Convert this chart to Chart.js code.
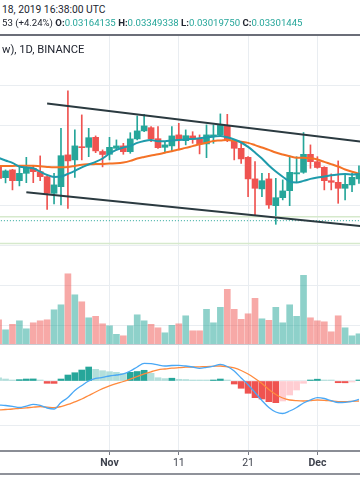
<!DOCTYPE html>
<html><head><meta charset="utf-8">
<script src="https://cdn.jsdelivr.net/npm/chart.js@4.4.1/dist/chart.umd.min.js"></script>
<style>
html,body{margin:0;padding:0;background:#fff;width:360px;height:504px;overflow:hidden;font-family:Roboto,"Open Sans",sans-serif;}
#wrap{position:relative;width:360px;height:504px;overflow:hidden;}
.t{position:absolute;left:2px;white-space:nowrap;font-size:10.3px;line-height:12px;color:#222631;z-index:3;}
.v{color:#26a69a}
.k{font-weight:bold}
canvas{position:absolute;left:0;}
</style></head><body><div id="wrap">
<div class="t" style="top:4px">18, 2019 16:38:00 UTC</div>
<div class="t" style="top:17px;font-size:9.6px">53 (+4.24%) <span class="k">O:</span><span class="v">0.03164135</span> <span class="k">H:</span><span class="v">0.03349338</span> <span class="k">L:</span><span class="v">0.03019750</span> <span class="k">C:</span><span class="v">0.03301445</span></div>
<div style="position:absolute;left:0;top:34px;width:360px;height:2px;background:#6b6e78"></div>
<canvas id="c1" width="360" height="309" style="top:36px"></canvas>
<canvas id="c2" width="360" height="128" style="top:345px"></canvas>
<div style="position:absolute;left:0;top:344px;width:360px;height:1px;background:#c9ccd3;z-index:2"></div>
<div style="position:absolute;left:0;top:473px;width:360px;height:2px;background:#8f929a"></div>
<div class="t" style="top:44px;font-size:11.2px">w), 1D, BINANCE</div>
</div>
<script>
// ---- data (days counted from Nov 1 = 0) ----
const days = [-16,-15,-14,-13,-12,-11,-10,-9,-8,-7,-6,-5,-4,-3,-2,-1,0,1,2,3,4,5,6,7,8,9,10,11,12,13,14,15,16,17,18,19,20,21,22,23,24,25,26,27,28,29,30,31,32,33,34,35,36];
const tickDays = [0,10,20,30];
const tickLabels = ['Nov','11','21','Dec'];
const tickBold = [true,false,false,true];

const openP = [0.03192,0.03137,0.03176,0.03122,0.03159,0.03184,0.03167,0.03142,0.03059,0.03092,0.03251,0.03226,0.03292,0.03289,0.03339,0.03268,
0.03254,0.03284,0.03296,0.03267,0.03331,0.03371,0.03387,0.03332,0.03289,0.03296,0.03351,
0.03322,0.03346,0.03329,0.03306,0.03342,0.03351,0.03396,0.03322,0.03284,0.03239,
0.03131,0.03081,0.03131,0.02997,0.03037,0.03072,0.03156,0.03164,0.03254,0.03217,
0.03189,0.03122,0.03114,0.03084,0.03101,0.03131];
const highP = [0.03200,0.03176,0.03179,0.03192,0.03239,0.03196,0.03246,0.03151,0.03159,0.03384,0.03571,0.03376,0.03451,0.03384,0.03346,0.03276,
0.03339,0.03326,0.03309,0.03362,0.03446,0.03454,0.03392,0.03392,0.03314,0.03392,0.03409,
0.03376,0.03367,0.03351,0.03401,0.03401,0.03456,0.03454,0.03329,0.03309,0.03242,
0.03217,0.03159,0.03159,0.03134,0.03126,0.03246,0.03242,0.03363,0.03301,0.03242,
0.03192,0.03156,0.03221,0.03151,0.03159,0.03196];
const lowP = [0.03126,0.03111,0.03076,0.03096,0.03112,0.03112,0.03122,0.02979,0.03006,0.03001,0.02984,0.03139,0.03226,0.03242,0.03262,0.03191,
0.03226,0.03276,0.03254,0.03259,0.03326,0.03367,0.03317,0.03284,0.03262,0.03267,0.03276,
0.03301,0.03309,0.03256,0.03237,0.03309,0.03346,0.03317,0.03226,0.03209,0.03042,
0.02942,0.03042,0.02984,0.02904,0.03026,0.02997,0.03114,0.03159,0.03184,0.03184,
0.03076,0.03076,0.03009,0.03026,0.03067,0.03109];
const closeP = [0.03134,0.03171,0.03122,0.03159,0.03184,0.03167,0.03142,0.03059,0.03101,0.03247,0.03221,0.03296,0.03287,0.03337,0.03271,0.03253,
0.03289,0.03296,0.03267,0.03331,0.03371,0.03396,0.03331,0.03287,0.03301,0.03346,0.03326,
0.03347,0.03329,0.03306,0.03351,0.03351,0.03401,0.03322,0.03284,0.03231,0.03131,
0.03084,0.03122,0.03001,0.03037,0.03071,0.03164,0.03162,0.03254,0.03217,0.03188,
0.03122,0.03114,0.03084,0.03104,0.03139,0.03159];
const emaFast = [0.03236,0.03223,0.03211,0.03193,0.03188,0.03184,0.03167,0.03151,0.03141,0.03143,0.03156,0.03171,0.03189,0.03203,0.03216,0.03233,
0.03258,0.03276,0.03288,0.03296,0.03311,0.03321,0.03326,0.03319,0.03319,0.03323,0.03326,
0.03328,0.03331,0.03334,0.03338,0.03342,0.03346,0.03339,0.03328,0.03313,0.03291,
0.03263,0.03233,0.03198,0.03168,0.03142,0.03118,0.03113,0.03121,0.03131,0.03138,
0.03143,0.03149,0.03153,0.03156,0.03153,0.03156];
const emaSlow = [0.03196,0.03196,0.03196,0.03197,0.03197,0.03197,0.03194,0.03191,0.03189,0.03189,0.03190,0.03196,0.03202,0.03204,0.03205,0.03206,
0.03208,0.03209,0.03213,0.03221,0.03233,0.03241,0.03248,0.03254,0.03262,0.03269,0.03278,
0.03286,0.03295,0.03304,0.03312,0.03321,0.03323,0.03326,0.03322,0.03317,0.03311,
0.03300,0.03288,0.03276,0.03263,0.03253,0.03244,0.03237,0.03237,0.03234,0.03228,
0.03216,0.03205,0.03193,0.03178,0.03167,0.03157];
const volume = [49,29,40,47,31,43,47,49,69,79,141,99,85,53,56,41,
37,20,17,37,59,47,40,33,23,38,41,
57,27,27,70,43,74,110,70,50,61,
92,51,48,74,43,79,56,138,53,47,
45,25,57,33,17,21];
const macdLine = [-0.000533,-0.000544,-0.000562,-0.000589,-0.000556,-0.000518,-0.000544,-0.0006,-0.000622,-0.000478,-0.000367,-0.000211,-0.0001,0,0.000056,0.00008,
0.000111,0.000133,0.000156,0.000222,0.000311,0.000393,0.000384,0.000356,0.000333,0.000344,0.000349,
0.000333,0.000311,0.000282,0.000304,0.000333,0.000371,0.000322,0.000222,0.000067,-0.000082,
-0.000256,-0.000433,-0.000589,-0.000689,-0.000722,-0.000667,-0.000589,-0.000489,-0.000422,-0.000371,
-0.000389,-0.000438,-0.000478,-0.000473,-0.000451,-0.000411];
const signalLine = [-0.000644,-0.000633,-0.000622,-0.000607,-0.000596,-0.000582,-0.000571,-0.000582,-0.000593,-0.000567,-0.000522,-0.000462,-0.0004,-0.000322,-0.000244,-0.000171,
-0.000107,-0.000056,-0.000011,0.000044,0.0001,0.000156,0.000204,0.000249,0.000267,0.000284,0.000296,
0.000307,0.000311,0.000316,0.00032,0.000327,0.000333,0.000316,0.000289,0.000233,0.000156,
0.000056,-0.000056,-0.000189,-0.0003,-0.000378,-0.000422,-0.000438,-0.000444,-0.000433,-0.000422,
-0.000429,-0.000444,-0.000458,-0.00046,-0.000453,-0.000444];
const histogram = [0.000073,0.000044,0.00002,0.00003,0.000044,0.000046,0.000022,-0.000051,-0.000053,0.000044,0.000133,0.000184,0.000244,0.000311,0.00026,0.000229,
0.000207,0.000193,0.000171,0.000193,0.000211,0.000238,0.000171,0.000073,0.000053,0.000062,0.000038,
0.000033,0.000022,0.000007,0.000004,0.000022,0.000044,0.000007,-0.000067,-0.000162,-0.000273,
-0.000371,-0.0004,-0.00046,-0.000482,-0.000444,-0.000311,-0.0002,-0.000051,0.000022,0.00004,
0.000007,0.000003,-0.000038,-0.00004,-0.000016,0.000007];
const trendUpperX = [-9, 40], trendUpperY = [0.03508, 0.03302];
const trendLowerX = [-12, 40], trendLowerY = [0.03064, 0.02882];
const greenLevels = [0.02942, 0.02808];
const dottedLevel = 0.02922;
const priceTicks = [0.024,0.026,0.028,0.030,0.032,0.034,0.036];
const macdTicks = [-0.001, 0];

// ---- styling ----
const UP = '#26a69a', DN = '#ef5350';
const GRID = '#e9edf1';
const XMIN = -15.8, XMAX = 36.15;
const candleCol = days.map((d,i)=> closeP[i] >= openP[i] ? UP : DN);
const volCol = days.map((d,i)=> closeP[i] >= openP[i] ? 'rgba(38,166,154,0.52)' : 'rgba(239,83,80,0.5)');
const histCol = histogram.map((v,i)=>{
  const p = i>0 ? histogram[i-1] : Infinity;
  if (v >= 0) return v > p ? '#26a69a' : '#b2dfdb';
  return v < p ? '#ef5350' : '#ffcdd2';
});
const pts = arr => days.map((d,i)=>({x:d, y:arr[i]}));
const setTicks = list => s => { s.ticks = list.map(v=>({value:v})); };
const common = {responsive:false, animation:false, devicePixelRatio:1, events:[],
  layout:{padding:0}, plugins:{legend:{display:false}, tooltip:{enabled:false}}};

const levelSets = greenLevels.map(v=>({type:'line', data:[{x:-20,y:v},{x:40,y:v}], borderColor:'#d6e9cc', borderWidth:1.5, pointRadius:0, order:3}));

new Chart(document.getElementById('c1'), {
  type:'bar',
  data:{datasets:[
    {type:'bar', data:pts(volume), yAxisID:'yv', backgroundColor:volCol, barThickness:6, grouped:false, order:20},
    ...levelSets,
    {type:'line', data:[{x:-20,y:dottedLevel},{x:40,y:dottedLevel}], borderColor:'#26a69a', borderWidth:1, borderDash:[1,2], pointRadius:0, order:3},
    {type:'bar', data:days.map((d,i)=>({x:d, y:[lowP[i], highP[i]]})), yAxisID:'y', backgroundColor:candleCol, barThickness:1, grouped:false, order:10},
    {type:'bar', data:days.map((d,i)=>({x:d, y:[openP[i], closeP[i]]})), yAxisID:'y', backgroundColor:candleCol, barThickness:6, minBarLength:1, grouped:false, order:9},
    {type:'line', data:pts(emaSlow), yAxisID:'y', borderColor:'#f47226', borderWidth:2, pointRadius:0, cubicInterpolationMode:'monotone', order:5},
    {type:'line', data:pts(emaFast), yAxisID:'y', borderColor:'#1e9bab', borderWidth:2, pointRadius:0, cubicInterpolationMode:'monotone', order:4},
    {type:'line', data:trendUpperX.map((x,i)=>({x, y:trendUpperY[i]})), yAxisID:'y', borderColor:'#2b3a40', borderWidth:2, pointRadius:0, order:1},
    {type:'line', data:trendLowerX.map((x,i)=>({x, y:trendLowerY[i]})), yAxisID:'y', borderColor:'#2b3a40', borderWidth:2, pointRadius:0, order:1}
  ]},
  options:{...common,
    scales:{
      x:{type:'linear', min:XMIN, max:XMAX, offset:false, afterBuildTicks:setTicks(tickDays),
         ticks:{display:false}, grid:{color:GRID, drawTicks:false, offset:false}, border:{display:false},
         afterFit:s=>{s.height=0;}},
      y:{type:'linear', position:'left', min:0.023005, max:0.038455, afterBuildTicks:setTicks(priceTicks),
         ticks:{display:false}, grid:{color:GRID, drawTicks:false}, border:{display:false},
         afterFit:s=>{s.width=0;}},
      yv:{type:'linear', position:'right', min:-1.4, max:616.6, display:false}
    }}
});

new Chart(document.getElementById('c2'), {
  type:'bar',
  data:{datasets:[
    {type:'bar', data:pts(histogram), yAxisID:'y', backgroundColor:histCol, barThickness:6, minBarLength:1, grouped:false, order:10},
    {type:'line', data:pts(signalLine), yAxisID:'y', borderColor:'#ff8a3d', borderWidth:1.3, pointRadius:0, cubicInterpolationMode:'monotone', order:2},
    {type:'line', data:pts(macdLine), yAxisID:'y', borderColor:'#4aa8f5', borderWidth:1.3, pointRadius:0, cubicInterpolationMode:'monotone', order:1}
  ]},
  options:{...common,
    scales:{
      x:{type:'linear', min:XMIN, max:XMAX, offset:false, afterBuildTicks:setTicks(tickDays),
         ticks:{autoSkip:false, maxRotation:0, padding:2, color:'#3e424d',
                font:ctx=>({family:'Roboto', size:10.5, weight: tickBold[ctx.index] ? 'bold' : 'normal'}),
                callback:(v,i)=>tickLabels[i]},
         grid:{color:GRID, offset:false, drawTicks:true, tickLength:4, tickColor:'#787b86'},
         border:{display:true, color:'#8a8d95', width:2},
         afterFit:s=>{s.height=22;}},
      y:{type:'linear', position:'left', min:-0.0015556, max:0.0008, afterBuildTicks:setTicks(macdTicks),
         ticks:{display:false}, grid:{color:GRID, drawTicks:false}, border:{display:false},
         afterFit:s=>{s.width=0;}}
    }}
});
</script>
</body></html>
